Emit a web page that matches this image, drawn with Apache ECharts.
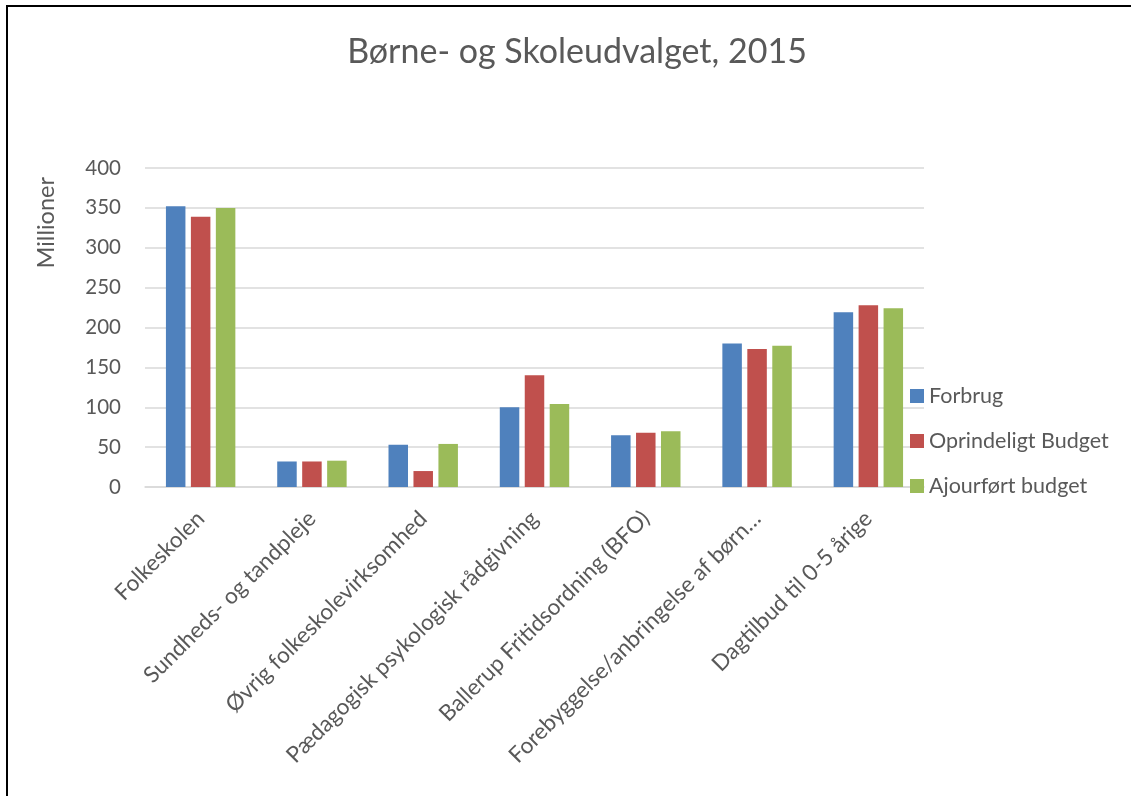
<!DOCTYPE html>
<html>
<head>
<meta charset="utf-8">
<script src="https://cdn.jsdelivr.net/npm/echarts@6/dist/echarts.min.js"></script>
<style>
    html, body { margin: 0; padding: 0; background: #fff; }
    #frame { position: absolute; left: 6px; top: 5px; width: 1125px; height: 791px; border-left: 2px solid #000; border-top: 2px solid #000; }
    #chart { position: absolute; left: 0; top: 0; width: 1131px; height: 796px; }
</style>
</head>
<body>
<div id="frame"></div>
<div id="chart"></div>
<script>
var categories = [
    'Folkeskolen',
    'Sundheds- og tandpleje',
    'Øvrig folkeskolevirksomhed',
    'Pædagogisk psykologisk rådgivning',
    'Ballerup Fritidsordning (BFO)',
    'Forebyggelse/anbringelse af børn…',
    'Dagtilbud til 0-5 årige'
];
var forbrug = [352, 32, 53, 100, 65, 180, 219];
var oprindeligtBudget = [339, 32, 20, 140, 68, 173, 228];
var ajourfoertBudget = [350, 33, 54, 104, 70, 177, 224];
var yTicks = [0, 50, 100, 150, 200, 250, 300, 350, 400];

var font = 'Lato, "Open Sans", sans-serif';
var textColor = '#595959';

var myChart = echarts.init(document.getElementById('chart'));
var option = {
    animation: false,
    textStyle: { fontFamily: font },
    title: {
        text: 'Børne- og Skoleudvalget, 2015',
        left: 572,
        top: 30,
        textAlign: 'center',
        textStyle: { fontFamily: font, fontSize: 34, fontWeight: 'normal', color: textColor }
    },
    legend: {
        orient: 'vertical',
        left: 905,
        top: 380,
        itemWidth: 14,
        itemHeight: 14,
        itemGap: 23,
        icon: 'rect',
        textStyle: { fontFamily: font, fontSize: 21.5, color: textColor },
        data: ['Forbrug', 'Oprindeligt Budget', 'Ajourført budget']
    },
    grid: { left: 145, right: 207, top: 168, bottom: 309 },
    xAxis: {
        type: 'category',
        data: categories,
        axisLine: { lineStyle: { color: '#d9d9d9', width: 1.5 } },
        axisTick: { show: false },
        axisLabel: { rotate: 45, interval: 0, margin: 28, fontFamily: font, fontSize: 22.5, color: textColor }
    },
    yAxis: {
        type: 'value',
        min: yTicks[0],
        max: yTicks[yTicks.length - 1],
        interval: 50,
        axisLine: { show: false },
        axisTick: { show: false },
        axisLabel: { margin: 24, fontFamily: font, fontSize: 20.5, color: textColor },
        splitLine: { lineStyle: { color: '#d9d9d9', width: 1.5 } }
    },
    graphic: [{
        type: 'text',
        left: 34,
        top: 177,
        rotation: Math.PI / 2,
        style: { text: 'Millioner', fontFamily: font, fontSize: 23.5, fill: textColor }
    }],
    series: [
        { name: 'Forbrug', type: 'bar', data: forbrug, barWidth: 19.5, barGap: '28%', itemStyle: { color: '#4F81BD' } },
        { name: 'Oprindeligt Budget', type: 'bar', data: oprindeligtBudget, barWidth: 19.5, barGap: '28%', itemStyle: { color: '#C0504D' } },
        { name: 'Ajourført budget', type: 'bar', data: ajourfoertBudget, barWidth: 19.5, barGap: '28%', itemStyle: { color: '#9BBB59' } }
    ]
};
myChart.setOption(option, true);
</script>
</body>
</html>
